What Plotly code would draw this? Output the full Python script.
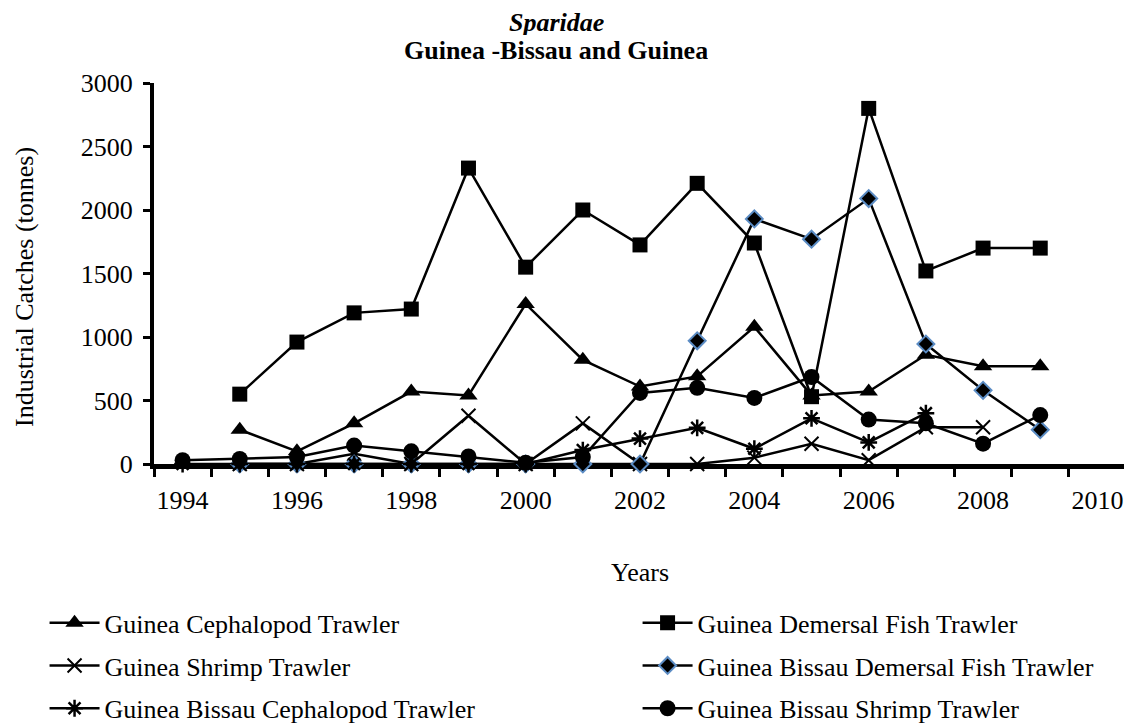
import plotly.graph_objects as go

years = list(range(1994, 2010))
guinea_ceph = [None, 270, 100, 320, 570, 540, 1260, 820, 610, 690, 1080, 540, 570, 860, 770, 770]
guinea_dem = [None, 550, 960, 1190, 1220, 2330, 1550, 2000, 1725, 2210, 1740, 530, 2800, 1520, 1700, 1700]
guinea_shrimp = [None, 0, 0, 80, 0, 380, 0, 320, 0, 0, 50, 160, 30, 290, 290, None]
gb_dem = [None, 0, 0, 0, 0, 0, 0, 0, 0, 970, 1930, 1770, 2090, 945, 580, 270]
gb_ceph = [0, 0, 0, 0, 0, 0, 0, 110, 200, 285, 120, 360, 170, 400, None, None]
gb_shrimp = [30, 40, 55, 145, 100, 60, 10, 55, 560, 600, 520, 685, 350, 320, 160, 385]

xticks = list(range(1994, 2011, 2))
yticks = list(range(0, 3001, 500))

FONT = "Liberation Serif, Times New Roman, serif"
FS = 26
BLUE = "#5b8cc4"

# the page has an 8px body margin; size the figure so it ends at the window edge
OFF = 8
W, H = 1132 - OFF, 724 - OFF
L, R, T = 154 - OFF, 6, 83 - OFF
B = H - (464 - OFF)
PW = W - L - R
PH = H - T - B


def px_to_paper(px, py):
    """page pixel -> paper coords"""
    return ((px - OFF) - L) / PW, ((464 - OFF) - (py - OFF)) / PH


series = [
    ("Guinea Cephalopod Trawler", guinea_ceph, dict(symbol="triangle-up", size=16, color="black"), "legend"),
    ("Guinea Demersal Fish Trawler", guinea_dem, dict(symbol="square", size=15, color="black"), "legend2"),
    ("Guinea Shrimp Trawler", guinea_shrimp, dict(symbol="x-thin-open", size=14, color="black", line=dict(color="black", width=2)), "legend"),
    ("Guinea Bissau Demersal Fish Trawler", gb_dem, dict(symbol="diamond", size=13, color="black", line=dict(color=BLUE, width=2)), "legend2"),
    ("Guinea Bissau Cephalopod Trawler", gb_ceph, dict(symbol="asterisk-open", size=14, color="black", line=dict(color="black", width=2.5)), "legend"),
    ("Guinea Bissau Shrimp Trawler", gb_shrimp, dict(symbol="circle", size=16, color="black"), "legend2"),
]

fig = go.Figure()
for i, (name, vals, mk, lg) in enumerate(series):
    fig.add_trace(go.Scatter(
        x=years, y=vals, name=name, mode="lines+markers",
        line=dict(color="black", width=2.5), marker=mk,
        cliponaxis=False, connectgaps=False, legend=lg, legendgroup=f"g{i}",
    ))

t1x, t1y = px_to_paper(556, 22)
t2x, t2y = px_to_paper(556, 50)
ytx, yty = px_to_paper(24, 287)

fig.update_layout(
    width=W, height=H,
    margin=dict(l=L, r=R, t=T, b=B, autoexpand=False),
    paper_bgcolor="white", plot_bgcolor="white",
    font=dict(family=FONT, size=FS, color="black"),
    showlegend=True,
    legend=dict(x=-0.1126, xanchor="left", y=-0.355, yanchor="top",
                font=dict(family=FONT, size=FS, color="black"), itemwidth=50,
                tracegroupgap=6, bgcolor="rgba(0,0,0,0)"),
    legend2=dict(x=0.4975, xanchor="left", y=-0.355, yanchor="top",
                 font=dict(family=FONT, size=FS, color="black"), itemwidth=50,
                 tracegroupgap=6, bgcolor="rgba(0,0,0,0)"),
    annotations=[
        dict(text="<b><i>Sparidae</i></b>", x=t1x, xref="paper", y=t1y, yref="paper",
             height=26, valign="middle",
             showarrow=False, xanchor="center", yanchor="middle", font=dict(family=FONT, size=FS)),
        dict(text="<b>Guinea -Bissau and Guinea</b>", x=t2x, xref="paper", y=t2y, yref="paper",
             height=26, valign="middle",
             showarrow=False, xanchor="center", yanchor="middle", font=dict(family=FONT, size=FS)),
        dict(text="Years", x=0.5, xref="paper", y=-0.285, yref="paper", showarrow=False,
             yanchor="middle", font=dict(family=FONT, size=FS)),
        dict(text="Industrial Catches (tonnes)", x=ytx, xref="paper", y=yty, yref="paper",
             textangle=-90, showarrow=False, xanchor="center", yanchor="middle",
             font=dict(family=FONT, size=FS)),
    ],
)

fig.update_xaxes(
    range=[1993.5, 2010.5], tickmode="array", tickvals=xticks,
    ticks="", showgrid=False, zeroline=False, automargin=False,
    showline=True, linecolor="black", linewidth=5, layer="below traces",
    tickfont=dict(family=FONT, size=FS), ticklabelstandoff=9,
    minor=dict(tickmode="linear", tick0=1993.5, dtick=1, ticks="outside",
               ticklen=8, tickwidth=3, tickcolor="black", showgrid=False),
)
fig.update_yaxes(
    range=[0, 3000], tickmode="array", tickvals=yticks,
    ticks="outside", ticklen=7, tickwidth=3, tickcolor="black",
    showgrid=False, zeroline=False, automargin=False,
    showline=True, linecolor="black", linewidth=4, layer="below traces",
    tickfont=dict(family=FONT, size=FS), ticklabelstandoff=5,
)

fig.write_html("out.html")
